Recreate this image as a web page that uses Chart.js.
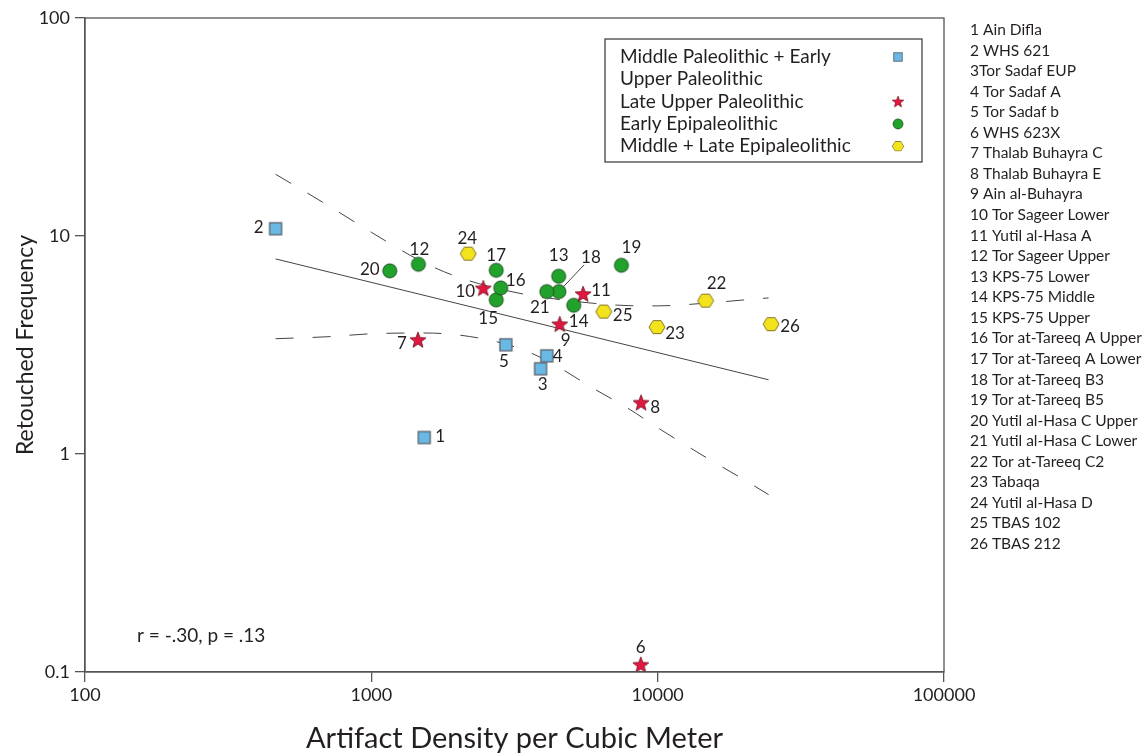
<!DOCTYPE html>
<html lang="en">
<head>
<meta charset="UTF-8">
<title>Retouched Frequency vs Artifact Density</title>
<script src="https://cdn.jsdelivr.net/npm/chart.js"></script>
<style>
  body { margin: 0; background: #fff; }
</style>
</head>
<body>
<canvas id="chart" width="1148" height="756"></canvas>
<script>
// site names, numbered 1..26
const siteNames = [
  '1 Ain Difla', '2 WHS 621', '3Tor Sadaf EUP', '4 Tor Sadaf A', '5 Tor Sadaf b',
  '6 WHS 623X', '7 Thalab Buhayra C', '8 Thalab Buhayra E', '9 Ain al-Buhayra',
  '10 Tor Sageer Lower', '11 Yutil al-Hasa A', '12 Tor Sageer Upper', '13 KPS-75 Lower',
  '14 KPS-75 Middle', '15 KPS-75 Upper', '16 Tor at-Tareeq A Upper', '17 Tor at-Tareeq A Lower',
  '18 Tor at-Tareeq B3', '19 Tor at-Tareeq B5', '20 Yutil al-Hasa C Upper',
  '21 Yutil al-Hasa C Lower', '22 Tor at-Tareeq C2', '23 Tabaqa', '24 Yutil al-Hasa D',
  '25 TBAS 102', '26 TBAS 212'
];

// Middle Paleolithic + Early Upper Paleolithic
const mpSites   = [1, 2, 3, 4, 5];
const mpDensity = [1530, 463, 3900, 4100, 2950];
const mpFreq    = [1.19, 10.8, 2.46, 2.82, 3.17];

// Late Upper Paleolithic
const lupSites   = [6, 7, 8, 9, 10, 11];
const lupDensity = [8730, 1455, 8750, 4550, 2460, 5490];
const lupFreq    = [0.108, 3.34, 1.72, 3.94, 5.76, 5.42];

// Early Epipaleolithic
const eepSites   = [12, 13, 14, 15, 16, 17, 18, 19, 20, 21];
const eepDensity = [1460, 4510, 5090, 2730, 2830, 2730, 4520, 7470, 1160, 4100];
const eepFreq    = [7.42, 6.54, 4.81, 5.09, 5.78, 6.96, 5.56, 7.34, 6.92, 5.56];

// Middle + Late Epipaleolithic
const mlepSites   = [22, 23, 24, 25, 26];
const mlepDensity = [14700, 9950, 2180, 6480, 24900];
const mlepFreq    = [5.05, 3.82, 8.30, 4.50, 3.94];

// regression line and confidence band
const fitDensity  = [463, 24400];
const fitFreq     = [7.85, 2.19];
const bandDensity = [463, 700, 1000, 1500, 2000, 3000, 4000, 6000, 8000, 10000, 15000, 20000, 24400];
const upperBand   = [19.2, 13.9, 10.4, 7.64, 6.49, 5.60, 5.23, 4.91, 4.79, 4.78, 4.93, 5.09, 5.20];
const lowerBand   = [3.38, 3.45, 3.56, 3.59, 3.52, 3.17, 2.73, 1.99, 1.60, 1.32, 0.952, 0.763, 0.651];

const xTicks = [100, 1000, 10000, 100000];
const yTicks = [0.1, 1, 10, 100];

const legendLines = [
  ['Middle Paleolithic + Early', 'Upper Paleolithic'],
  ['Late Upper Paleolithic'],
  ['Early Epipaleolithic'],
  ['Middle + Late Epipaleolithic']
];
const statsText = 'r = -.30, p = .13';

// label offsets from each point (px), indexed by site number - 1
const labelDx = [16, -17, 2, 11, -2, 0, -16, 14, 6, -18, 18, 1, 0, 5, -8, 15, 0, 32, 10, -20, -7, 11, 18, -1, 19, 19];
const labelDy = [-1, -1, 16, 1, 17, -17, 4, 5, 16, 3, -3, -15, -21, 16, 19, -7, -15, -34, -18, -1, 16, -17, 6, -15, 4, 2];
const leaderSites = [18];

const FONT = 'Lato, "Open Sans", sans-serif';
const INK = '#231f20';
const AXIS = '#555';

function makeMarker(w, h, draw) {
  const c = document.createElement('canvas');
  c.width = w; c.height = h;
  draw(c.getContext('2d'), w / 2, h / 2);
  return c;
}

const squareMarker = makeMarker(16, 16, (g, cx, cy) => {
  g.fillStyle = '#6ab8e4';
  g.strokeStyle = '#59636d';
  g.lineWidth = 1.3;
  g.fillRect(cx - 6, cy - 6, 12, 12);
  g.strokeRect(cx - 6, cy - 6, 12, 12);
});

const starMarker = makeMarker(20, 20, (g, cx, cy) => {
  g.beginPath();
  for (let i = 0; i < 10; i++) {
    const r = i % 2 ? 3.6 : 8.4;
    const a = -Math.PI / 2 + i * Math.PI / 5;
    g.lineTo(cx + r * Math.cos(a), cy + 0.6 + r * Math.sin(a));
  }
  g.closePath();
  g.fillStyle = '#e2173f';
  g.fill();
  g.strokeStyle = '#6b1426';
  g.lineWidth = 0.8;
  g.stroke();
});

const circleMarker = makeMarker(18, 18, (g, cx, cy) => {
  g.beginPath();
  g.arc(cx, cy, 7, 0, Math.PI * 2);
  g.fillStyle = '#21a22b';
  g.fill();
  g.strokeStyle = '#1f4f22';
  g.lineWidth = 1;
  g.stroke();
});

const hexMarker = makeMarker(20, 16, (g, cx, cy) => {
  g.beginPath();
  g.moveTo(cx - 8, cy);
  g.lineTo(cx - 4, cy - 6.5);
  g.lineTo(cx + 4, cy - 6.5);
  g.lineTo(cx + 8, cy);
  g.lineTo(cx + 4, cy + 6.5);
  g.lineTo(cx - 4, cy + 6.5);
  g.closePath();
  g.fillStyle = '#f3e31d';
  g.fill();
  g.strokeStyle = '#857522';
  g.lineWidth = 1;
  g.stroke();
});

function points(xs, ys) {
  return xs.map((x, i) => ({ x: x, y: ys[i] }));
}

function group(lines, sites, xs, ys, marker) {
  return {
    type: 'scatter',
    label: lines.join(' '),
    legendLines: lines,
    sites: sites,
    data: points(xs, ys),
    pointStyle: marker,
    pointRadius: 8,
    order: 0
  };
}

function curve(xs, ys, dash) {
  return {
    type: 'line',
    data: points(xs, ys),
    borderColor: '#444',
    borderWidth: 1,
    borderDash: dash,
    pointRadius: 0,
    fill: false,
    cubicInterpolationMode: 'monotone',
    order: 5
  };
}

// frame, point numbers, legend box, stats and site list
const decorations = {
  id: 'decorations',
  afterDraw(chart) {
    const ctx = chart.ctx;
    const a = chart.chartArea;
    ctx.save();

    ctx.strokeStyle = AXIS;
    ctx.lineWidth = 1.3;
    ctx.strokeRect(a.left, a.top, a.right - a.left, a.bottom - a.top);

    ctx.fillStyle = INK;
    ctx.font = '17px ' + FONT;
    ctx.textAlign = 'center';
    ctx.textBaseline = 'middle';
    chart.data.datasets.forEach((ds, di) => {
      if (!ds.sites) return;
      const meta = chart.getDatasetMeta(di);
      ds.sites.forEach((site, i) => {
        const p = meta.data[i];
        const lx = p.x + labelDx[site - 1];
        const ly = p.y + labelDy[site - 1];
        ctx.fillText(String(site), lx, ly);
        if (leaderSites.includes(site)) {
          const dx = lx - p.x, dy = ly - p.y;
          const d = Math.hypot(dx, dy);
          ctx.beginPath();
          ctx.moveTo(p.x + dx / d * 7, p.y + dy / d * 7);
          ctx.lineTo(p.x + dx / d * (d - 10), p.y + dy / d * (d - 10));
          ctx.strokeStyle = '#444';
          ctx.lineWidth = 1;
          ctx.stroke();
        }
      });
    });

    // legend box
    const box = { left: 605, top: 39, right: 922, bottom: 162 };
    ctx.strokeStyle = '#444';
    ctx.lineWidth = 1.3;
    ctx.strokeRect(box.left, box.top, box.right - box.left, box.bottom - box.top);
    ctx.font = '19px ' + FONT;
    ctx.textAlign = 'left';
    let row = 0;
    chart.data.datasets.forEach(ds => {
      if (!ds.legendLines) return;
      ds.legendLines.forEach((line, li) => {
        const y = 57 + row * 22.3;
        ctx.fillStyle = INK;
        ctx.fillText(line, 620, y);
        if (li === 0) {
          const m = ds.pointStyle;
          const w = m.width * 0.72, h = m.height * 0.72;
          ctx.drawImage(m, 898 - w / 2, y - h / 2, w, h);
        }
        row++;
      });
    });

    ctx.fillStyle = INK;
    ctx.font = '19px ' + FONT;
    ctx.fillText(statsText, a.left + 52, a.bottom - 36);

    ctx.font = '15.5px ' + FONT;
    siteNames.forEach((name, i) => {
      ctx.fillText(name, 970, 30 + i * 20.56);
    });
    ctx.restore();
  }
};

new Chart(document.getElementById('chart'), {
  data: {
    datasets: [
      group(legendLines[0], mpSites, mpDensity, mpFreq, squareMarker),
      group(legendLines[1], lupSites, lupDensity, lupFreq, starMarker),
      group(legendLines[2], eepSites, eepDensity, eepFreq, circleMarker),
      group(legendLines[3], mlepSites, mlepDensity, mlepFreq, hexMarker),
      curve(fitDensity, fitFreq, []),
      curve(bandDensity, upperBand, [18, 19]),
      curve(bandDensity, lowerBand, [18, 19])
    ]
  },
  options: {
    responsive: false,
    animation: false,
    layout: { padding: { top: 18, right: 204, left: 0, bottom: 0 } },
    plugins: { legend: { display: false }, tooltip: { enabled: false } },
    scales: {
      x: {
        type: 'logarithmic',
        position: 'bottom',
        min: 100,
        max: 100000,
        afterBuildTicks: s => { s.ticks = xTicks.map(v => ({ value: v })); },
        afterFit: s => { s.height = 84; },
        grid: { drawOnChartArea: false, drawTicks: true, tickLength: 10, color: AXIS, lineWidth: 1.3 },
        border: { display: true, color: AXIS, width: 1.3 },
        ticks: {
          autoSkip: false, maxRotation: 0, padding: 2, color: INK,
          font: { family: FONT, size: 18 },
          callback: v => String(v)
        },
        title: {
          display: true, text: 'Artifact Density per Cubic Meter', color: INK,
          font: { family: FONT, size: 29 }, padding: { top: 0, bottom: 0 }
        }
      },
      y: {
        type: 'logarithmic',
        position: 'left',
        min: 0.1,
        max: 100,
        afterBuildTicks: s => { s.ticks = yTicks.map(v => ({ value: v })); },
        afterFit: s => { s.width = 85; },
        grid: { drawOnChartArea: false, drawTicks: true, tickLength: 10, color: AXIS, lineWidth: 1.3 },
        border: { display: true, color: AXIS, width: 1.3 },
        ticks: {
          autoSkip: false, padding: 5, color: INK,
          font: { family: FONT, size: 18 },
          callback: v => String(v)
        },
        title: {
          display: true, text: 'Retouched Frequency', color: INK,
          font: { family: FONT, size: 23 }, padding: { top: 12, bottom: 0 }
        }
      }
    }
  },
  plugins: [decorations]
});
</script>
</body>
</html>
